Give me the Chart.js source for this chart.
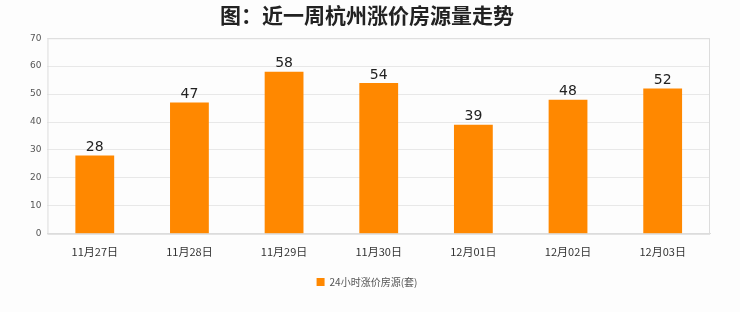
<!DOCTYPE html>
<html>
<head>
<meta charset="utf-8">
<script src="https://cdn.jsdelivr.net/npm/chart.js@4"></script>
<style>
  html, body { margin: 0; padding: 0; background: #fdfdfd; }
  #wrap { width: 740px; height: 312px; }
</style>
</head>
<body>
<div id="wrap"><canvas id="grafico" width="740" height="312"></canvas></div>
<script>
// Datos
const fechas = ['11月27日', '11月28日', '11月29日', '11月30日', '12月01日', '12月02日', '12月03日'];
const cantidades = [28, 47, 58, 54, 39, 48, 52];
const nombreSerie = '24小时涨价房源(套)';
const titulo = '图：近一周杭州涨价房源量走势';

// Etiquetas encima de cada barra
const etiquetas = {
  id: 'etiquetas',
  afterDatasetsDraw(chart) {
    const ctx = chart.ctx;
    const meta = chart.getDatasetMeta(0);
    ctx.save();
    ctx.font = '14px "DejaVu Sans", sans-serif';
    ctx.fillStyle = '#222';
    ctx.textAlign = 'center';
    ctx.textBaseline = 'bottom';
    meta.data.forEach((bar, i) => {
      ctx.fillText(cantidades[i], bar.x, bar.y - 1);
    });
    ctx.restore();
  }
};

// Borde del área
const borde = {
  id: 'borde',
  beforeDatasetsDraw(chart) {
    const a = chart.chartArea;
    const ctx = chart.ctx;
    ctx.save();
    ctx.strokeStyle = '#dcdcdc';
    ctx.lineWidth = 1;
    ctx.strokeRect(a.left + 0.5, a.top + 0.5, a.right - a.left - 1, a.bottom - a.top);
    ctx.restore();
  }
};

new Chart(document.getElementById('grafico').getContext('2d'), {
  type: 'bar',
  data: {
    labels: fechas,
    datasets: [{
      label: nombreSerie,
      data: cantidades,
      backgroundColor: '#ff8800',
      categoryPercentage: 1,
      barPercentage: 0.41
    }]
  },
  options: {
    responsive: false,
    animation: false,
    layout: { padding: { left: 24, right: 30, top: 0, bottom: 15 } },
    plugins: {
      title: {
        display: true,
        text: titulo,
        color: '#222',
        font: { size: 21, weight: '600', family: '"Noto Sans CJK SC", sans-serif' },
        padding: { top: 2, bottom: 11 }
      },
      legend: {
        position: 'bottom',
        labels: {
          boxWidth: 8,
          boxHeight: 8,
          color: '#555',
          font: { size: 10, family: '"Noto Sans CJK SC", sans-serif' },
          padding: 16
        }
      },
      tooltip: { enabled: false }
    },
    scales: {
      x: {
        grid: { display: false },
        border: { color: '#dcdcdc' },
        ticks: { color: '#333', font: { size: 11, family: '"Noto Sans CJK SC", sans-serif' }, maxRotation: 0 }
      },
      y: {
        min: 0,
        max: 70,
        ticks: { stepSize: 10, color: '#555', font: { size: 9, family: '"DejaVu Sans", sans-serif' }, padding: 6 },
        grid: { color: '#e8e8e8', drawTicks: false },
        border: { display: false }
      }
    }
  },
  plugins: [borde, etiquetas]
});
</script>
</body>
</html>
